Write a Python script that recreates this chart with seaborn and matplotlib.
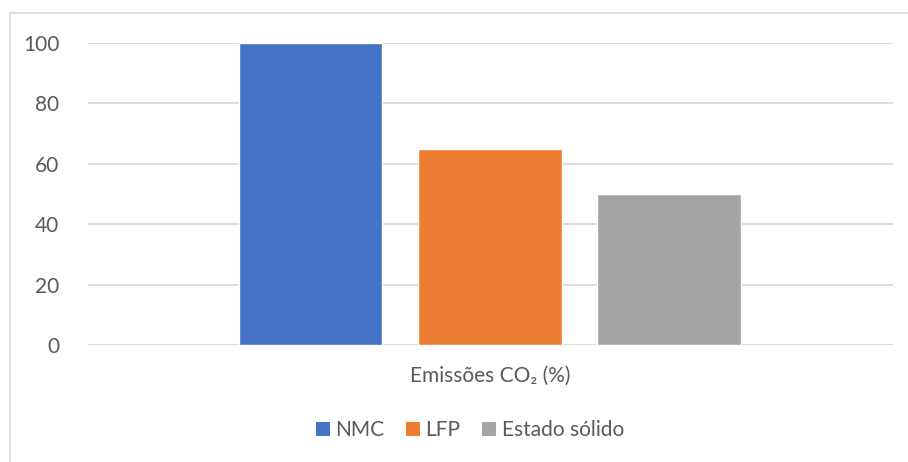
import matplotlib
matplotlib.use("Agg")
import matplotlib.pyplot as plt
import seaborn as sns
import pandas as pd
from matplotlib.lines import Line2D
from matplotlib.patches import Patch

categories = ["Emissões CO₂ (%)"]
series = ["NMC", "LFP", "Estado sólido"]
values = [100, 65, 50]
colors = ["#4472C4", "#ED7D31", "#A5A5A5"]
yticks = [0, 20, 40, 60, 80, 100]

df = pd.DataFrame({"cat": categories * len(series), "serie": series, "val": values})

sns.set_theme(style="white")
plt.rcParams["font.family"] = ["Lato", "DejaVu Sans"]

fig = plt.figure(figsize=(9.08, 4.62), dpi=100)
W, H = 908, 462
ax = fig.add_axes([88 / W, 1 - 345 / H, (893 - 88) / W, (345 - 43) / H])

sns.barplot(data=df, x="cat", y="val", hue="serie", palette=colors,
            width=0.807, gap=0.2, ax=ax, legend=False, saturation=1)

FS = 15
ax.set_ylim(0, 100)
ax.set_yticks(yticks)
ax.set_xlim(-0.603, 0.605)
ax.yaxis.grid(True, color="#D9D9D9", linewidth=1.3)
ax.set_axisbelow(True)
for s in ax.spines.values():
    s.set_visible(False)
ax.tick_params(axis="y", length=0, pad=20.5, labelsize=FS, labelcolor="#595959")
ax.tick_params(axis="x", length=0, pad=15, labelsize=FS, labelcolor="#595959")
ax.set_xlabel("")
ax.set_ylabel("")

handles = [Patch(facecolor=c, edgecolor="none") for c in colors]
fig.legend(handles, series, loc="center", bbox_to_anchor=(470 / W, 1 - 430 / H),
           ncol=3, frameon=False, fontsize=FS, labelcolor="#595959",
           handlelength=0.67, handleheight=0.67, handletextpad=0.25, columnspacing=1.05)

fig.add_artist(Line2D([10 / W, 1], [1 - 13 / H, 1 - 13 / H], transform=fig.transFigure,
                      color="#D9D9D9", linewidth=1.2))
fig.add_artist(Line2D([10 / W, 10 / W], [0, 1 - 13 / H], transform=fig.transFigure,
                      color="#D9D9D9", linewidth=1.2))

fig.savefig("out.png", dpi=100)
